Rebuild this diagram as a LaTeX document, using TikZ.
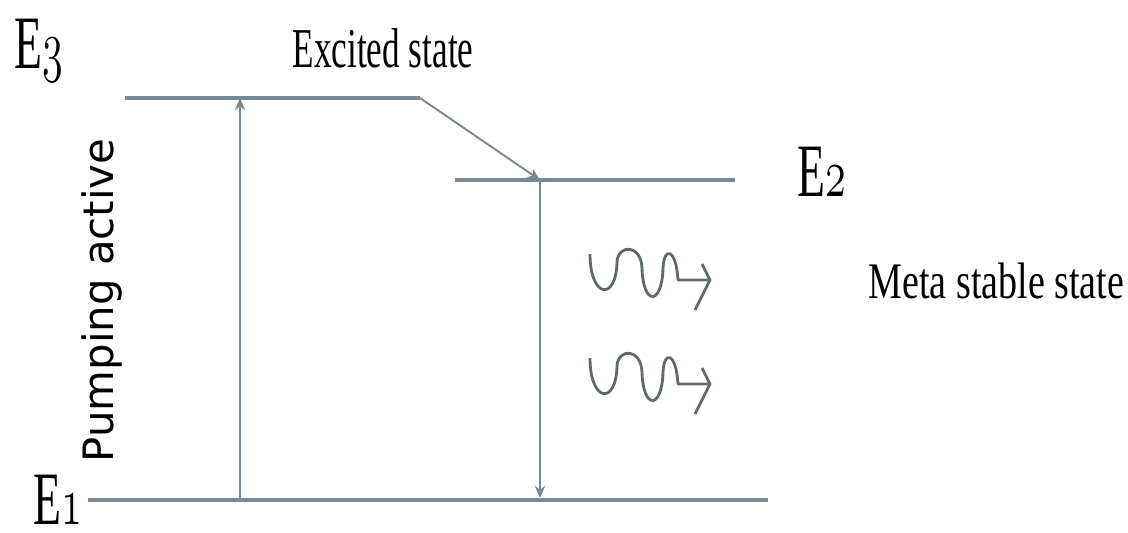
\documentclass[tikz,border=0pt]{standalone}
\usepackage{fontspec}
\setmainfont{Liberation Serif}
\newfontfamily\pumpfont{DejaVu Sans}
\usetikzlibrary{arrows.meta,positioning}
\definecolor{LevelGray}{RGB}{122,138,148}
\definecolor{WaveGray} {RGB}{95,105,110}
\newcommand{\lvl}[1]{E{\fontencoding{OML}\fontfamily{cmm}\fontseries{m}%
  \fontshape{it}\selectfont #1}}
\begin{document}
\begin{tikzpicture}[x=0.01cm,y=-0.01cm,
    level/.style={LevelGray,line width=0.9pt},
    trans/.style={LevelGray,line width=0.55pt,-{Stealth[length=3.5pt,width=3pt]}},
    lvllbl/.style={anchor=base west,inner sep=0pt,yscale=1.65,
                   font=\fontsize{13}{13}\selectfont},
    statelbl/.style={anchor=base west,inner sep=0pt}]
  \useasboundingbox (0,0) rectangle (1128,532);
  % Level end points
  \coordinate (e3l) at (125,98);  \coordinate (e3r) at (420,98);
  \coordinate (e2l) at (455,180); \coordinate (e2r) at (735,180);
  \coordinate (e1l) at (88,500);  \coordinate (e1r) at (768,500);
  \coordinate (pumpbot) at (240,500); \coordinate (pumptop) at (240,98);
  \coordinate (decay) at (540,180);   \coordinate (emitbot) at (540,498);
  % Levels
  \draw[level] (e3l) -- (e3r);
  \draw[level] (e2l) -- (e2r);
  \draw[level,line width=1.3pt] (e1l) -- (e1r);
  % Transitions
  \draw[trans] (pumpbot) -- (pumptop);
  \draw[trans] (e3r) -- (decay);
  \draw[trans] (decay) -- (emitbot);
  % Emitted photons
  \foreach \dy in {0,104}{
    \begin{scope}[shift={(0,\dy)}]
      \draw[WaveGray,line width=0.8pt,line join=round]
        (590,254) .. controls (590,298) and (616,302) .. (617,262)
        .. controls (618,244) and (641,244) .. (642,268)
        .. controls (643,306) and (662,306) .. (663,268)
        .. controls (664,246) and (676,248) .. (678,280) -- (710,280);
      \draw[WaveGray,line width=0.8pt,line join=round]
        (702,264) -- (710,280) -- (695,310);
    \end{scope}
  }
  % Labels
  \node[lvllbl] (E3) at (14,68) {\lvl{3}};
  \node[lvllbl] (E2) at (797,196) {\lvl{2}};
  \node[lvllbl] (E1) at (33,524) {\lvl{1}};
  \node[statelbl,yscale=1.6,font=\fontsize{10}{10}\selectfont]
    (excited) at (292,67) {Excited state};
  \node[statelbl,yscale=1.35,font=\fontsize{10.8}{10.8}\selectfont]
    (meta) at (868,298) {Meta stable state};
  \node[statelbl,rotate=90,font=\pumpfont\fontsize{11.9}{11.9}\selectfont]
    (pump) at (113,463) {Pumping active};
\end{tikzpicture}
\end{document}
